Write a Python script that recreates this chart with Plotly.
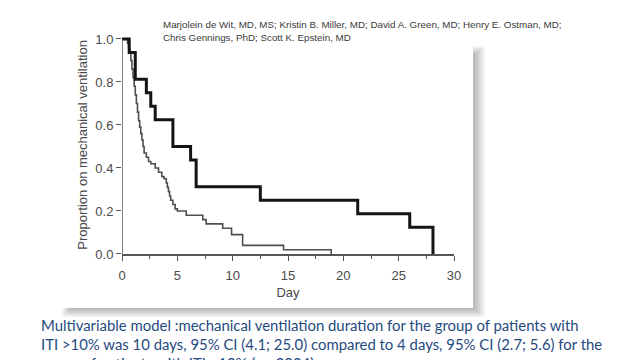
import plotly.graph_objects as go

# ---- data ----
thick_days = [0, 0.65, 1.2, 2.2, 2.6, 3.0, 4.6, 6.2, 6.7, 12.5, 21.3, 26.0, 28.1]
thick_surv = [1.0, 0.9375, 0.8125, 0.75, 0.6875, 0.625, 0.5, 0.4375, 0.3125, 0.25, 0.1875, 0.125, 0.0]

thin_days = [0, 0.5, 0.6, 0.7, 0.8, 0.9, 1.0, 1.1, 1.2, 1.3, 1.4, 1.5, 1.6, 1.7, 1.8, 1.9,
             2.0, 2.2, 2.4, 2.6, 3.0, 3.3, 3.6, 3.8, 4.0, 4.1, 4.2, 4.3, 4.4, 4.6, 4.8, 5.0,
             5.8, 7.3, 7.6, 9.1, 9.9, 10.9, 14.6, 18.9]
thin_surv = [1.0, 0.98, 0.96, 0.94, 0.90, 0.86, 0.82, 0.78, 0.74, 0.70, 0.66, 0.62, 0.59, 0.56, 0.53, 0.50,
             0.47, 0.45, 0.43, 0.42, 0.40, 0.38, 0.36, 0.35, 0.33, 0.31, 0.29, 0.27, 0.25, 0.23, 0.21, 0.20,
             0.18, 0.16, 0.14, 0.12, 0.09, 0.04, 0.02, 0.0]

x_ticks = [0, 5, 10, 15, 20, 25, 30]
y_ticks = [0.0, 0.2, 0.4, 0.6, 0.8, 1.0]
y_tick_labels = ["0.0", "0.2", "0.4", "0.6", "0.8", "1.0"]

authors = ["Marjolein de Wit, MD, MS; Kristin B. Miller, MD; David A. Green, MD; Henry E. Ostman, MD;",
           "Chris Gennings, PhD; Scott K. Epstein, MD"]
caption = ["Multivariable model :mechanical ventilation duration for the group of patients with",
           "ITI >10% was 10 days, 95% CI (4.1; 25.0) compared to 4 days, 95% CI (2.7; 5.6) for the",
           "group of patients with ITI <10% (p=.0004)"]

W, H = 640, 360
x0_px, x1_px = 122, 454   # px of x=0 and x=30
y0_px, y1_px = 254, 39    # px of y=0 and y=1
ytop = 1.015
ytop_px = y0_px - ytop * (y0_px - y1_px)

def px(x):
    return x / W

def py(y):
    return 1 - y / H

fig = go.Figure()
fig.add_trace(go.Scatter(x=thin_days, y=thin_surv, mode="lines", line_shape="hv",
                         line=dict(color="#4e4e4e", width=1.6), hoverinfo="skip"))
fig.add_trace(go.Scatter(x=thick_days, y=thick_surv, mode="lines", line_shape="hv",
                         line=dict(color="#141414", width=3), hoverinfo="skip"))

axis_font = dict(family="Liberation Sans, Arial, sans-serif", size=13, color="#4a4a4a")

fig.update_xaxes(domain=[px(x0_px), px(x1_px)], range=[0, 30], tickvals=x_ticks,
                 ticks="outside", ticklen=5, tickwidth=1.3, tickcolor="#555",
                 showline=True, linecolor="#555", linewidth=1.5, showgrid=False, zeroline=False,
                 tickfont=axis_font, ticklabelstandoff=4, automargin=False,
                 minor=dict(dtick=2.5, tick0=0, ticks="outside", ticklen=3, tickwidth=1.2, tickcolor="#555"),
                 title=dict(text="Day", font=axis_font, standoff=6))
fig.update_yaxes(domain=[py(y0_px), py(ytop_px)], range=[0, ytop], tickvals=y_ticks, ticktext=y_tick_labels,
                 ticks="outside", ticklen=5, tickwidth=1.3, tickcolor="#555", automargin=False,
                 showline=False, showgrid=False, zeroline=False, tickfont=axis_font,
                 title=dict(text="Proportion on mechanical ventilation", font=axis_font, standoff=4))

shapes = []
# panel shadow (right and bottom), lightest/widest first
shadow_cols = ["#f2f2f2", "#e4e4e4", "#d4d4d4", "#c6c6c6", "#bababa"]
n = len(shadow_cols)
for i, c in enumerate(shadow_cols):
    w = 2.4 * (n - i)
    shapes.append(dict(type="rect", xref="paper", yref="paper",
                       x0=px(473), x1=px(473 + w), y0=py(308 + 1.8 * (n - i)), y1=py(56 - 2 * (n - i)),
                       fillcolor=c, line=dict(width=0), layer="below"))
    shapes.append(dict(type="rect", xref="paper", yref="paper",
                       x0=px(62 + 2 * i), x1=px(473), y0=py(308), y1=py(308 + 1.8 * (n - i)),
                       fillcolor=c, line=dict(width=0), layer="below"))
# y axis line from 0 to 1
shapes.append(dict(type="line", xref="x", yref="y", x0=0, x1=0, y0=0, y1=1,
                   line=dict(color="#555", width=1.5), layer="above"))

annotations = []
for i, t in enumerate(authors):
    annotations.append(dict(text=t, xref="paper", yref="paper", x=px(161), y=py(24.5 + 13 * i),
                            xanchor="left", yanchor="middle", showarrow=False,
                            font=dict(family="Liberation Sans, Arial, sans-serif",
                                      size=9.8, color="#3a3a3a")))
for i, t in enumerate(caption):
    annotations.append(dict(text=t, xref="paper", yref="paper", x=px(39), y=py(325 + 19 * i),
                            xanchor="left", yanchor="middle", showarrow=False,
                            font=dict(family="Lato, Carlito, Calibri, sans-serif", size=14.9, color="#1f4a80")))

fig.update_layout(width=W, height=H, margin=dict(l=0, r=0, t=0, b=0),
                  paper_bgcolor="white", plot_bgcolor="rgba(0,0,0,0)", showlegend=False,
                  shapes=shapes, annotations=annotations)

fig.write_html("out.html", config={"displayModeBar": False},
               post_script="document.body.style.margin='0';document.body.style.overflow='hidden';")
